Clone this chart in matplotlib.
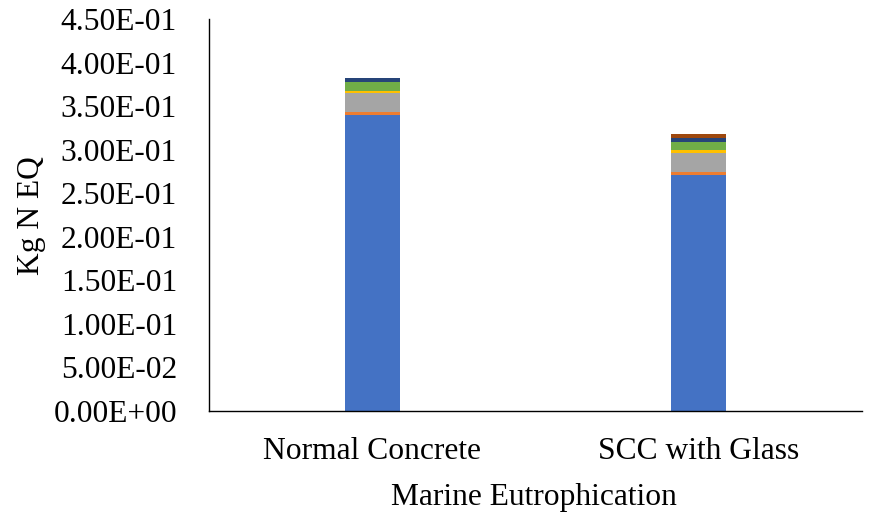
import matplotlib
matplotlib.use("Agg")
import matplotlib.pyplot as plt
import numpy as np

categories = ["Normal Concrete", "SCC with Glass"]
series_names = ["S1", "S2", "S3", "S4", "S5", "S6", "S7"]
series_colors = ["#4472C4", "#ED7D31", "#A5A5A5", "#FFC000", "#70AD47", "#264478", "#9E480E"]
values = [
    [0.3395, 0.2710],
    [0.0041, 0.0037],
    [0.0212, 0.0212],
    [0.0030, 0.0038],
    [0.0104, 0.0095],
    [0.0039, 0.0046],
    [0.0000, 0.0042],
]
y_ticks = [0.0, 0.05, 0.10, 0.15, 0.20, 0.25, 0.30, 0.35, 0.40, 0.45]

FS = 22.7
plt.rcParams["font.family"] = ["Liberation Serif", "DejaVu Serif"]
W, H = 869, 517
fig = plt.figure(figsize=(W / 100, H / 100), dpi=100)
ax = fig.add_axes([209 / W, 1 - 411 / H, 653 / W, 392 / H])

x = np.arange(len(categories))
bottom = np.zeros(len(categories))
for name, col, vals in zip(series_names, series_colors, values):
    vals = np.array(vals)
    ax.bar(x, vals, width=0.168, bottom=bottom, color=col, label=name, linewidth=0)
    bottom += vals

ax.set_xlim(-0.5, 1.5)
ax.set_ylim(0, 0.45)
ax.set_yticks(y_ticks)
ax.set_yticklabels([f"{v:.2E}" for v in y_ticks])
ax.set_xticks(x)
ax.set_xticklabels(categories)
ax.tick_params(axis="y", length=0, pad=23, labelsize=FS)
ax.tick_params(axis="x", length=0, pad=19, labelsize=FS)
for s in ["top", "right"]:
    ax.spines[s].set_visible(False)
for s in ["left", "bottom"]:
    ax.spines[s].set_color("black")
    ax.spines[s].set_linewidth(1.0)

fig.text(32 / W, 1 - 216 / H, "Kg N EQ", fontsize=FS, rotation=90,
         ha="center", va="center")
fig.text(534 / W, 1 - 505 / H, "Marine Eutrophication", fontsize=FS,
         ha="center", va="baseline")

fig.savefig("out.png", dpi=100)
